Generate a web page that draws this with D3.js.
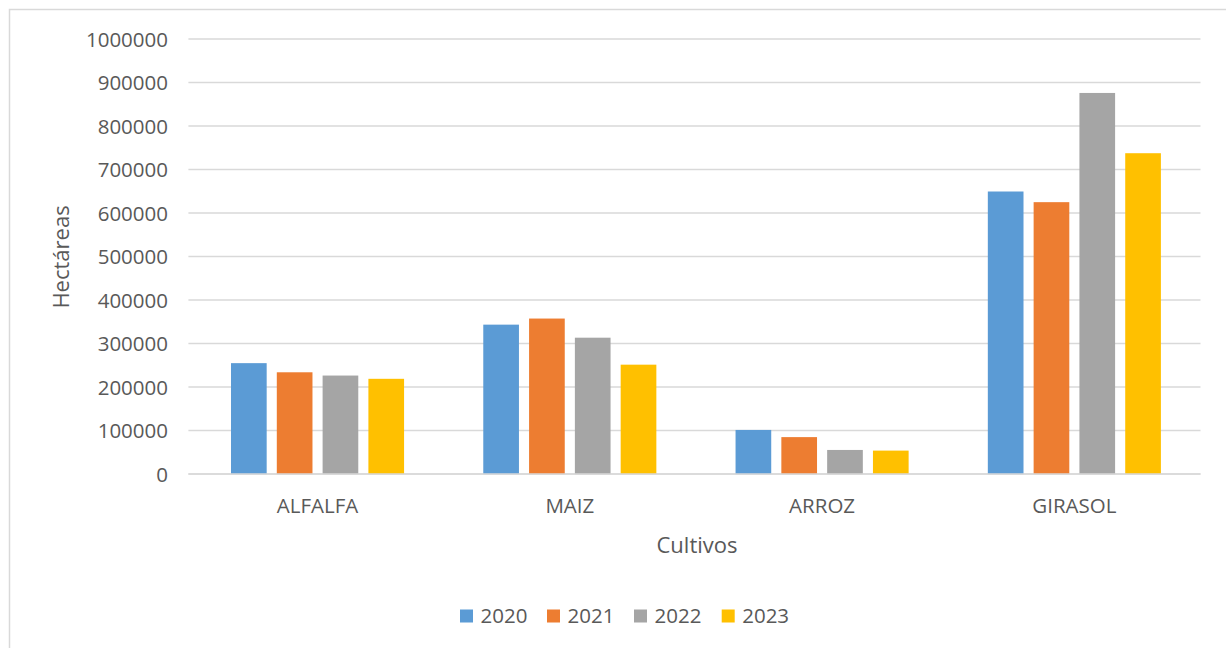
<!DOCTYPE html>
<html>
<head>
<meta charset="utf-8">
<script src="https://cdn.jsdelivr.net/npm/d3@7"></script>
<style>
  html, body { margin: 0; padding: 0; background: #fff; }
  svg { display: block; }
  text { font-family: "Open Sans", "Noto Sans", sans-serif; fill: #595959; }
</style>
</head>
<body>
<svg id="chart" width="1226" height="648"></svg>
<script>
const categories = ["ALFALFA", "MAIZ", "ARROZ", "GIRASOL"];
const seriesNames = ["2020", "2021", "2022", "2023"];
const values2020 = [255000, 343500, 101500, 649500];
const values2021 = [234000, 357500, 85000, 625000];
const values2022 = [226500, 313500, 55500, 876000];
const values2023 = [219000, 251500, 54000, 737500];
const colors = ["#5B9BD5", "#ED7D31", "#A5A5A5", "#FFC000"];
const yTicks = [0, 100000, 200000, 300000, 400000, 500000, 600000, 700000, 800000, 900000, 1000000];
const yTitle = "Hectáreas";
const xTitle = "Cultivos";

const seriesValues = [values2020, values2021, values2022, values2023];

const svg = d3.select("#chart");

// chart border (clipped on right and bottom like the reference)
svg.append("rect")
  .attr("x", 9.5).attr("y", 9.5)
  .attr("width", 1240).attr("height", 660)
  .attr("fill", "none").attr("stroke", "#D9D9D9").attr("stroke-width", 1.5);

const plotLeft = 191.4, plotRight = 1200.5, plotTop = 39, plotBottom = 474.1;

const x0 = d3.scaleBand().domain(categories).range([plotLeft, plotRight]).paddingInner(0).paddingOuter(0);
const y = d3.scaleLinear().domain([0, 1000000]).range([plotBottom, plotTop]);

// gridlines
svg.append("g").selectAll("line").data(yTicks).join("line")
  .attr("x1", plotLeft - 3).attr("x2", plotRight)
  .attr("y1", d => y(d)).attr("y2", d => y(d))
  .attr("stroke", "#D9D9D9").attr("stroke-width", 1.5);

// y tick labels
const yAxis = d3.axisLeft(y).tickValues(yTicks).tickFormat(d3.format("d")).tickSize(0).tickPadding(0);
const gy = svg.append("g").attr("transform", `translate(168,0)`).call(yAxis);
gy.select(".domain").remove();
gy.selectAll("text").attr("font-size", 20.5).attr("fill", "#595959")
  .attr("font-family", "'Open Sans', sans-serif").attr("dy", "0.35em");

// bars: inner band for series
const bandW = x0.bandwidth();
const groupPad = 39.6 / bandW;
const x1 = d3.scaleBand().domain(seriesNames)
  .range([bandW * groupPad, bandW * (1 - groupPad)])
  .paddingInner(10.1 / 45.7);

const groups = svg.append("g").selectAll("g").data(categories).join("g")
  .attr("transform", c => `translate(${x0(c)},0)`);

groups.selectAll("rect")
  .data((c, ci) => seriesNames.map((s, si) => ({ s, si, v: seriesValues[si][ci] })))
  .join("rect")
  .attr("x", d => x1(d.s))
  .attr("width", x1.bandwidth())
  .attr("y", d => y(d.v))
  .attr("height", d => y(0) - y(d.v))
  .attr("fill", d => colors[d.si]);

// baseline
svg.append("line").attr("x1", plotLeft - 3).attr("x2", plotRight)
  .attr("y1", y(0)).attr("y2", y(0)).attr("stroke", "#D9D9D9").attr("stroke-width", 1.5);

// x category labels
const xAxis = d3.axisBottom(x0).tickSize(0).tickPadding(0);
const gx = svg.append("g").attr("transform", `translate(0,506)`).call(xAxis);
gx.select(".domain").remove();
gx.selectAll("text").attr("font-size", 20.5).attr("fill", "#595959")
  .attr("font-family", "'Open Sans', sans-serif").attr("dy", "0.35em");

// axis titles
svg.append("text").attr("x", 697).attr("y", 545).attr("dy", "0.35em")
  .attr("text-anchor", "middle").attr("font-size", 22).text(xTitle);
svg.append("text").attr("transform", "translate(61,257) rotate(-90)").attr("dy", "0.35em")
  .attr("text-anchor", "middle").attr("font-size", 22).text(yTitle);

// legend
const legendX = [460, 547, 634, 721.7];
const lg = svg.append("g").selectAll("g").data(seriesNames).join("g")
  .attr("transform", (d, i) => `translate(${legendX[i]},616)`);
lg.append("rect").attr("x", 0).attr("y", -6.5).attr("width", 13).attr("height", 13)
  .attr("fill", (d, i) => colors[i]);
lg.append("text").attr("x", 20.5).attr("y", 0).attr("dy", "0.35em")
  .attr("font-size", 20.5).text(d => d);
</script>
</body>
</html>
